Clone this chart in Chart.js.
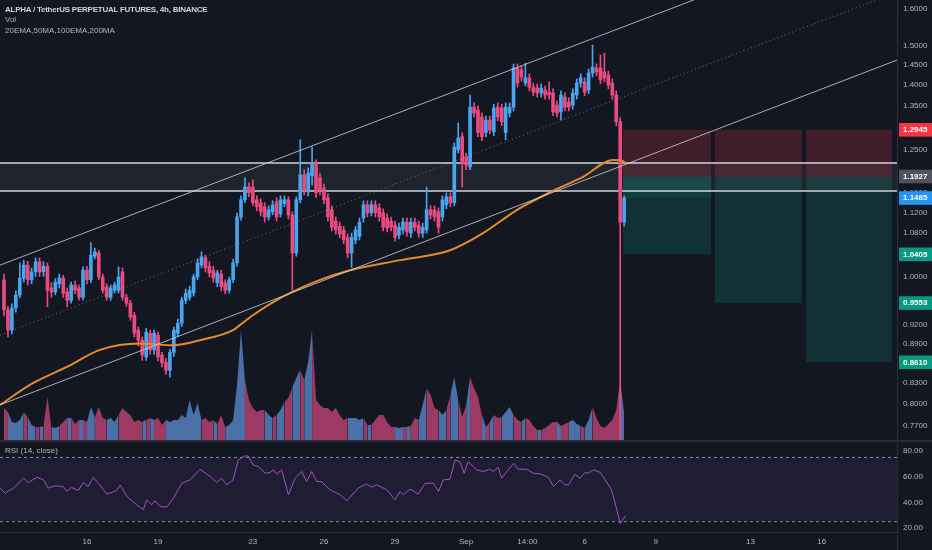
<!DOCTYPE html>
<html>
<head>
<meta charset="utf-8">
<title>ALPHA / TetherUS PERPETUAL FUTURES, 4h, BINANCE</title>
<script src="https://cdn.jsdelivr.net/npm/chart.js@4.4.1/dist/chart.umd.min.js"></script>
<style>
  html, body { margin: 0; padding: 0; background: #131722; }
  #wrap { position: relative; width: 932px; height: 550px; overflow: hidden; background: #131722; font-family: 'Liberation Sans', Arial, sans-serif; }
  .pane { position: absolute; left: 0; width: 932px; }
  #pricePane { top: 0; height: 440px; }
  #rsiPane { top: 442px; height: 108px; }
  .legend { position: absolute; left: 5px; font-size: 8px; line-height: 10px; color: #b2b5be; white-space: nowrap; }
  .legend.title { color: #d1d4dc; font-weight: bold; letter-spacing: -0.25px; }
  .sep { position: absolute; background: #2a2e39; }
</style>
</head>
<body>
<div id="wrap">
  <div id="pricePane" class="pane"><canvas id="priceChart"></canvas></div>
  <div id="rsiPane" class="pane"><canvas id="rsiChart"></canvas></div>
  <div class="sep" style="left:0;top:440px;width:932px;height:2px"></div>
  <div class="sep" style="left:897px;top:532px;width:1px;height:18px"></div>
  <div class="legend title" style="top:5px">ALPHA / TetherUS PERPETUAL FUTURES, 4h, BINANCE</div>
  <div class="legend" style="top:15px">Vol</div>
  <div class="legend" style="top:26px">20EMA,50MA,100EMA,200MA</div>
  <div class="legend" style="top:446px">RSI (14, close)</div>
</div>
<script>
// 4h candles, index 0 = Aug 12 12:00
const candleOpen = [
  0.995, 0.944, 0.911, 0.947, 0.969, 0.998, 1.021, 0.995, 1.009, 1.027,
  1.009, 1.019, 0.981, 0.974, 0.988, 0.998, 0.974, 0.960, 0.986, 0.981,
  0.965, 1.012, 0.995, 1.037, 1.043, 1.000, 0.983, 0.965, 0.977, 0.977,
  1.009, 0.965, 0.955, 0.935, 0.911, 0.895, 0.869, 0.906, 0.880, 0.903,
  0.872, 0.861, 0.849, 0.876, 0.906, 0.922, 0.960, 0.965, 0.972, 1.000,
  1.021, 1.034, 1.019, 1.012, 0.990, 1.005, 0.990, 0.977, 0.995, 1.025,
  1.111, 1.145, 1.171, 1.171, 1.145, 1.139, 1.131, 1.111, 1.121, 1.141,
  1.117, 1.137, 1.145, 1.115, 1.043, 1.145, 1.196, 1.161, 1.194, 1.221,
  1.190, 1.169, 1.149, 1.125, 1.103, 1.093, 1.086, 1.072, 1.043, 1.067,
  1.074, 1.109, 1.135, 1.119, 1.135, 1.129, 1.119, 1.109, 1.103, 1.095,
  1.076, 1.086, 1.101, 1.080, 1.101, 1.095, 1.080, 1.086, 1.125, 1.125,
  1.121, 1.111, 1.135, 1.151, 1.139, 1.250, 1.279, 1.234, 1.213, 1.347,
  1.340, 1.324, 1.288, 1.317, 1.290, 1.347, 1.345, 1.288, 1.333, 1.347,
  1.443, 1.438, 1.405, 1.418, 1.395, 1.393, 1.381, 1.388, 1.383, 1.381,
  1.352, 1.336, 1.371, 1.359, 1.352, 1.376, 1.405, 1.408, 1.388, 1.430,
  1.443, 1.443, 1.433, 1.425, 1.405, 1.376, 1.313, 1.101
];
const candleHigh = [
  1.005, 0.950, 0.954, 0.976, 1.025, 1.030, 1.028, 1.016, 1.034, 1.034,
  1.027, 1.025, 0.990, 0.997, 1.005, 1.003, 0.981, 0.991, 0.993, 0.986,
  1.018, 1.019, 1.062, 1.052, 1.048, 1.005, 0.988, 0.986, 0.991, 1.018,
  1.016, 0.970, 0.960, 0.940, 0.916, 0.900, 0.914, 0.911, 0.911, 0.908,
  0.876, 0.867, 0.881, 0.916, 0.929, 0.965, 0.979, 0.984, 1.005, 1.032,
  1.045, 1.039, 1.027, 1.019, 1.012, 1.012, 0.995, 1.000, 1.032, 1.119,
  1.153, 1.190, 1.179, 1.186, 1.153, 1.147, 1.139, 1.133, 1.143, 1.149,
  1.153, 1.153, 1.151, 1.121, 1.151, 1.272, 1.207, 1.211, 1.256, 1.228,
  1.200, 1.177, 1.157, 1.133, 1.111, 1.101, 1.093, 1.078, 1.080, 1.093,
  1.109, 1.143, 1.143, 1.143, 1.143, 1.137, 1.127, 1.117, 1.111, 1.103,
  1.099, 1.109, 1.109, 1.109, 1.109, 1.103, 1.099, 1.171, 1.133, 1.133,
  1.129, 1.153, 1.159, 1.159, 1.265, 1.310, 1.288, 1.243, 1.376, 1.357,
  1.350, 1.333, 1.326, 1.326, 1.354, 1.357, 1.354, 1.357, 1.357, 1.453,
  1.453, 1.448, 1.455, 1.428, 1.405, 1.403, 1.403, 1.398, 1.408, 1.391,
  1.362, 1.386, 1.381, 1.369, 1.391, 1.415, 1.428, 1.418, 1.440, 1.502,
  1.453, 1.476, 1.481, 1.435, 1.415, 1.386, 1.322, 1.153
];
const candleLow = [
  0.934, 0.900, 0.905, 0.940, 0.964, 0.991, 0.986, 0.988, 1.001, 1.001,
  1.001, 0.949, 0.965, 0.969, 0.981, 0.965, 0.949, 0.955, 0.971, 0.960,
  0.960, 0.988, 0.990, 1.032, 0.995, 0.972, 0.960, 0.960, 0.972, 0.972,
  0.960, 0.950, 0.927, 0.900, 0.886, 0.864, 0.864, 0.873, 0.873, 0.863,
  0.854, 0.843, 0.839, 0.870, 0.901, 0.917, 0.954, 0.960, 0.967, 0.995,
  1.016, 1.009, 1.000, 0.991, 0.983, 0.976, 0.971, 0.972, 0.990, 1.019,
  1.105, 1.139, 1.151, 1.133, 1.123, 1.113, 1.101, 1.105, 1.115, 1.103,
  1.111, 1.131, 1.107, 0.977, 1.037, 1.139, 1.155, 1.153, 1.175, 1.149,
  1.155, 1.137, 1.103, 1.084, 1.078, 1.071, 1.060, 1.034, 1.017, 1.060,
  1.067, 1.101, 1.111, 1.113, 1.111, 1.103, 1.084, 1.082, 1.084, 1.065,
  1.069, 1.078, 1.074, 1.072, 1.084, 1.072, 1.072, 1.080, 1.107, 1.103,
  1.080, 1.103, 1.127, 1.131, 1.133, 1.243, 1.171, 1.207, 1.207, 1.324,
  1.279, 1.270, 1.279, 1.285, 1.281, 1.315, 1.304, 1.272, 1.324, 1.338,
  1.395, 1.410, 1.398, 1.386, 1.374, 1.371, 1.371, 1.366, 1.366, 1.327,
  1.324, 1.317, 1.338, 1.338, 1.342, 1.366, 1.395, 1.374, 1.379, 1.420,
  1.423, 1.403, 1.408, 1.391, 1.366, 1.304, 0.741, 1.093
];
const candleClose = [
  0.944, 0.911, 0.947, 0.969, 0.998, 1.021, 0.995, 1.009, 1.027, 1.009,
  1.019, 0.977, 0.974, 0.991, 0.998, 0.972, 0.960, 0.986, 0.977, 0.965,
  1.012, 0.995, 1.039, 1.045, 1.000, 0.977, 0.965, 0.981, 0.986, 1.000,
  0.965, 0.955, 0.932, 0.906, 0.895, 0.872, 0.908, 0.880, 0.906, 0.869,
  0.860, 0.849, 0.876, 0.911, 0.922, 0.960, 0.972, 0.977, 1.000, 1.025,
  1.036, 1.016, 1.007, 0.998, 1.007, 0.983, 0.977, 0.995, 1.025, 1.111,
  1.145, 1.171, 1.159, 1.139, 1.131, 1.121, 1.111, 1.125, 1.135, 1.111,
  1.145, 1.145, 1.115, 1.043, 1.145, 1.196, 1.165, 1.200, 1.221, 1.159,
  1.165, 1.145, 1.111, 1.091, 1.086, 1.078, 1.067, 1.043, 1.072, 1.086,
  1.101, 1.135, 1.119, 1.135, 1.119, 1.111, 1.091, 1.090, 1.091, 1.072,
  1.091, 1.101, 1.082, 1.101, 1.091, 1.080, 1.091, 1.125, 1.115, 1.111,
  1.091, 1.145, 1.151, 1.139, 1.256, 1.276, 1.221, 1.217, 1.347, 1.333,
  1.288, 1.279, 1.317, 1.294, 1.345, 1.324, 1.313, 1.347, 1.347, 1.443,
  1.405, 1.420, 1.418, 1.395, 1.383, 1.381, 1.393, 1.376, 1.376, 1.336,
  1.333, 1.376, 1.347, 1.347, 1.381, 1.405, 1.418, 1.383, 1.430, 1.445,
  1.433, 1.413, 1.418, 1.400, 1.376, 1.313, 1.101, 1.1485
];
const volume = [
  32, 28, 18, 17, 20, 28, 23, 15, 13, 13,
  14, 43, 13, 12, 14, 18, 22, 22, 16, 20,
  20, 18, 33, 23, 33, 22, 20, 22, 18, 25,
  32, 28, 25, 18, 20, 18, 20, 22, 20, 22,
  15, 20, 18, 20, 20, 25, 22, 40, 25, 37,
  20, 22, 18, 20, 16, 25, 13, 15, 20, 55,
  110, 60, 40, 32, 28, 30, 30, 25, 22, 25,
  30, 38, 42, 53, 62, 70, 60, 78, 110, 40,
  35, 32, 32, 28, 32, 25, 20, 22, 22, 22,
  20, 22, 15, 15, 20, 25, 25, 18, 13, 13,
  12, 13, 13, 14, 22, 20, 35, 52, 45, 32,
  30, 25, 30, 45, 63, 40, 23, 35, 63, 52,
  43, 25, 13, 18, 25, 22, 23, 28, 33, 25,
  20, 18, 22, 20, 14, 10, 10, 12, 15, 18,
  18, 14, 16, 18, 20, 16, 14, 12, 20, 33,
  22, 14, 12, 16, 20, 30, 60, 27
];

// 200MA (orange), read at candle positions
const maIndex = [-1, 7.3, 15.9, 24.3, 34.4, 42.8, 49.6, 58, 59.7, 63, 70.6, 80, 87.6, 100.3, 112.9, 121.3, 129.9, 138.2, 146.6, 154.2, 156.5, 157.5];
const maValue = [0.799, 0.830, 0.854, 0.880, 0.890, 0.887, 0.895, 0.911, 0.919, 0.935, 0.966, 0.995, 1.012, 1.030, 1.048, 1.080, 1.125, 1.160, 1.192, 1.228, 1.226, 1.219];

const rsiIndex = [-1, 0.3, 2.4, 4.9, 6.2, 8.3, 10, 11.2, 12.9, 15, 15.9, 17.1, 18.8, 20.1, 21.3, 22.6, 23.9, 26, 28.5, 29.4,
  31.1, 33.6, 35.3, 36.1, 37.4, 38.2, 39.5, 41.2, 42.9, 45, 47.1, 49.6, 52.2, 53.8, 55.1, 56.4, 58, 59.3, 61, 61.8,
  63.1, 64.4, 66.1, 67.3, 68.2, 69, 70.3, 72, 73.7, 75.4, 76.6, 77.9, 79.2, 80.4, 82.5, 85.1, 86.8, 89.7, 91.8, 93.1,
  94.4, 96.9, 99, 100.3, 101.1, 102.8, 104.9, 106.6, 108.7, 110, 111.2, 112.9, 114.2, 115.4, 116.5, 117.5, 119.7, 121.3, 123, 123.9,
  125.1, 126, 127.3, 129, 130.2, 132.3, 134, 135.7, 137.8, 139.1, 140.8, 142, 142.9, 144.6, 145.8, 147.1, 147.9, 149.2, 150.9, 152.2,
  153.8, 154.7, 156, 157.3];
const rsiValue = [51.1, 47.2, 51.1, 58.8, 55.5, 59.6, 57.5, 51.1, 52.9, 52.3, 48.5, 51.6, 49.3, 55.5, 52.3, 59.4, 54.9, 46.4, 49.0, 53.6,
  44.6, 38.1, 34.3, 42.0, 38.1, 41.2, 36.8, 36.3, 43.3, 54.9, 57.5, 65.8, 60.1, 55.5, 58.8, 53.6, 57.5, 73.0, 76.1, 76.1,
  69.1, 67.9, 62.7, 63.2, 65.3, 61.9, 65.3, 45.9, 58.8, 64.0, 56.2, 64.0, 56.2, 56.2, 49.8, 45.9, 41.2, 51.1, 54.4, 51.8,
  53.6, 49.8, 42.0, 48.5, 45.9, 50.3, 46.4, 54.9, 54.9, 48.5, 57.5, 58.0, 73.0, 71.7, 62.7, 71.7, 65.3, 64.0, 65.8, 64.0,
  67.3, 58.8, 64.0, 70.4, 65.8, 65.8, 62.7, 62.2, 59.6, 52.3, 57.5, 53.6, 53.6, 61.9, 58.8, 63.2, 62.7, 65.3, 63.5, 57.5,
  49.8, 39.6, 23.4, 29.6];

const timeTicks = [21, 39, 63, 81, 99, 117, 132.5, 147, 165, 189, 207];
const timeLabels = ['16', '19', '23', '26', '29', 'Sep', '14:00', '6', '9', '13', '16'];

const priceTicks = [1.6, 1.5, 1.45, 1.4, 1.35, 1.25, 1.16, 1.12, 1.08, 1.0, 0.92, 0.89, 0.83, 0.80, 0.77];
const priceMarkers = [1.2945, 1.1927, 1.1485, 1.0405, 0.9553, 0.8610];
const markerColors = ['#f23645', '#50535e', '#2196f3', '#089981', '#089981', '#089981'];
const rsiTicks = [80, 60, 40, 20];
const rsiBands = [75, 25];

// drawings: channel, zone, short position boxes
const channelIndex = [-1.013, 226.08];
const channelUpper = [1.021, 1.863];
const channelMiddle = [0.903, 1.648];
const channelLower = [0.799, 1.463];
const zoneTop = 1.2213;
const zoneBottom = 1.1626;
const entryPrice = 1.1927;
const stopPrice = 1.2945;
const lastPrice = 1.1485;
const targetPrices = [1.0405, 0.9553, 0.8610];
const boxStart = [156.7, 180.0, 203.0];
const boxEnd = [179.0, 202.0, 224.8];

(function() {
    'use strict';

    const X_MIN = -1.013, X_MAX = 226.08;
    const FONT = "'Liberation Sans', Arial, sans-serif";
    Chart.defaults.font.family = FONT;
    Chart.defaults.animation = false;

    function pts(xs, ys) {
        return xs.map((x, i) => ({ x: x, y: ys[i] }));
    }

    function flat(x0, x1, y) {
        return [{ x: x0, y: y }, { x: x1, y: y }];
    }

    function lineSet(data, color, width, order, extra) {
        return Object.assign({
            type: 'line', data: data, borderColor: color, borderWidth: width,
            pointRadius: 0, fill: false, order: order, yAxisID: 'y'
        }, extra || {});
    }

    // keep the plot area flush with the canvas edges
    function noPad(s) {
        s.paddingTop = 0;
        s.paddingBottom = 0;
        s.paddingLeft = 0;
        s.paddingRight = 0;
    }

    function buildPriceChart() {
        const up = candleClose.map((c, i) => c >= candleOpen[i]);
        const candleColor = up.map(u => u ? '#4aa5ef' : '#e94a80');
        const volColor = up.map(u => u ? '#4b70a8' : '#9c3a63');

        const datasets = [
            lineSet(pts(channelIndex, channelUpper), 'rgba(209,212,220,0.8)', 1, 1),
            lineSet(pts(channelIndex, channelMiddle), 'rgba(209,212,220,0.45)', 1, 1, { borderDash: [1, 3] }),
            lineSet(pts(channelIndex, channelLower), 'rgba(209,212,220,0.8)', 1, 1),
            lineSet(pts(maIndex, maValue), '#e8892a', 2, 2, { cubicInterpolationMode: 'monotone' }),
            {
                type: 'bar', yAxisID: 'y', data: candleLow.map((l, i) => ({ x: i, y: [l, candleHigh[i]] })),
                backgroundColor: candleColor, barThickness: 1, grouped: false, order: 4
            },
            {
                type: 'bar', yAxisID: 'y', data: candleOpen.map((o, i) => ({ x: i, y: [o, candleClose[i]] })),
                backgroundColor: candleColor, barThickness: 3, minBarLength: 1, grouped: false, order: 3
            },
            // volume as a filled area, striped by candle direction
            {
                type: 'line', yAxisID: 'vol', data: volume.map((v, i) => ({ x: i, y: v })),
                borderWidth: 0, pointRadius: 0, fill: 'origin', backgroundColor: '#4b70a8',
                segment: { backgroundColor: ctx => volColor[ctx.p1DataIndex] },
                order: 8
            },
            lineSet(flat(X_MIN, X_MAX, zoneTop), '#d1d4dc', 1.5, 6,
                { fill: { value: zoneBottom }, backgroundColor: 'rgba(178,181,190,0.08)' }),
            lineSet(flat(X_MIN, X_MAX, zoneBottom), '#d1d4dc', 1.5, 6)
        ];

        targetPrices.forEach((t, k) => {
            datasets.push(lineSet(flat(boxStart[k], boxEnd[k], stopPrice), 'rgba(0,0,0,0)', 0, 9,
                { fill: { value: entryPrice }, backgroundColor: 'rgba(242,54,69,0.2)' }));
            datasets.push(lineSet(flat(boxStart[k], boxEnd[k], entryPrice), 'rgba(0,0,0,0)', 0, 9,
                { fill: { value: t }, backgroundColor: 'rgba(8,153,129,0.2)' }));
        });
        datasets.push(lineSet(flat(boxStart[0], boxEnd[0], entryPrice), 'rgba(0,0,0,0)', 0, 9,
            { fill: { value: lastPrice }, backgroundColor: 'rgba(8,153,129,0.14)' }));

        new Chart(document.getElementById('priceChart'), {
            type: 'bar',
            data: { datasets: datasets },
            options: {
                responsive: true,
                maintainAspectRatio: false,
                layout: { padding: 0 },
                plugins: { legend: { display: false }, tooltip: { enabled: false } },
                scales: {
                    x: {
                        type: 'linear', display: false, offset: false, bounds: 'data',
                        min: X_MIN, max: X_MAX
                    },
                    y: {
                        type: 'logarithmic', position: 'right', bounds: 'data',
                        min: 0.7513, max: 1.6255,
                        grid: { display: false, drawTicks: false },
                        border: { display: true, color: '#2a2e39' },
                        afterFit: s => { s.width = 35; noPad(s); },
                        afterBuildTicks: s => {
                            s.ticks = priceTicks.concat(priceMarkers).map(v => ({ value: v }));
                        },
                        ticks: {
                            autoSkip: false,
                            padding: 6,
                            font: ctx => ({ size: 8, weight: priceMarkers.indexOf(ctx.tick.value) >= 0 ? 'bold' : 'normal' }),
                            color: ctx => priceMarkers.indexOf(ctx.tick.value) >= 0 ? '#ffffff' : '#b2b5be',
                            showLabelBackdrop: true,
                            backdropColor: ctx => {
                                const k = priceMarkers.indexOf(ctx.tick.value);
                                return k >= 0 ? markerColors[k] : 'rgba(0,0,0,0)';
                            },
                            backdropPadding: { top: 2, bottom: 2, left: 4, right: 5 },
                            callback: v => Number(v).toFixed(4)
                        }
                    },
                    vol: { type: 'linear', display: false, min: 0, max: 440, bounds: 'data' }
                }
            }
        });
    }

    function buildRsiChart() {
        new Chart(document.getElementById('rsiChart'), {
            type: 'line',
            data: {
                datasets: [
                    lineSet(pts(rsiIndex, rsiValue), '#a64fc8', 1, 1),
                    lineSet(flat(X_MIN, X_MAX, rsiBands[0]), 'rgba(178,181,190,0.75)', 1, 2,
                        { borderDash: [3, 3], fill: { value: rsiBands[1] }, backgroundColor: 'rgba(126,87,194,0.1)' }),
                    lineSet(flat(X_MIN, X_MAX, rsiBands[1]), 'rgba(178,181,190,0.75)', 1, 2, { borderDash: [3, 3] })
                ]
            },
            options: {
                responsive: true,
                maintainAspectRatio: false,
                layout: { padding: 0 },
                plugins: { legend: { display: false }, tooltip: { enabled: false } },
                scales: {
                    x: {
                        type: 'linear', offset: false, bounds: 'data', min: X_MIN, max: X_MAX,
                        grid: { display: false, drawTicks: false },
                        border: { display: true, color: '#2a2e39' },
                        afterFit: s => { s.height = 18; noPad(s); },
                        afterBuildTicks: s => { s.ticks = timeTicks.map(v => ({ value: v })); },
                        ticks: {
                            autoSkip: false, maxRotation: 0, padding: 5,
                            font: { size: 8 }, color: '#b2b5be',
                            callback: (v, i) => timeLabels[i]
                        }
                    },
                    y: {
                        type: 'linear', position: 'right', bounds: 'data', min: 16.9, max: 87.0,
                        grid: { display: false, drawTicks: false },
                        border: { display: true, color: '#2a2e39' },
                        afterFit: s => { s.width = 35; noPad(s); },
                        afterBuildTicks: s => { s.ticks = rsiTicks.map(v => ({ value: v })); },
                        ticks: {
                            autoSkip: false, padding: 6,
                            font: { size: 8 }, color: '#b2b5be',
                            callback: v => Number(v).toFixed(2)
                        }
                    }
                }
            }
        });
    }

    buildPriceChart();
    buildRsiChart();
})();
</script>
</body>
</html>
